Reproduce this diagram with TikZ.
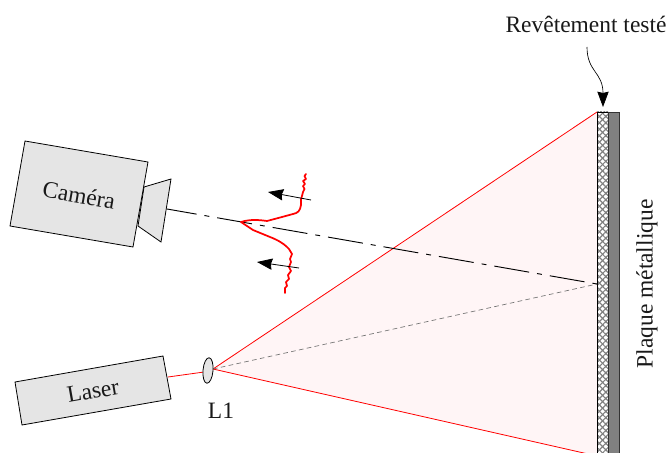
\documentclass[tikz,border=0pt]{standalone}
\usepackage{fontspec}
\setmainfont{Liberation Serif}
\usetikzlibrary{arrows.meta,patterns.meta}
\definecolor{boxgray}{HTML}{E5E5E5}
\definecolor{conepink}{HTML}{FFF5F6}
\definecolor{plategray}{HTML}{808080}
\tikzset{
  px/.style={x=0.75pt,y=-0.75pt},
  boxshape/.style={draw=black,fill=boxgray,line width=0.6pt,line join=miter},
  beam/.style={draw=red,line width=0.6pt},
  label/.style={font=\fontsize{17.6pt}{20pt}\selectfont,inner sep=0pt,text=black!90},
  bigtip/.style={-{Stealth[length=11.5pt,width=8.5pt,inset=1pt]}},
  signal/.style={draw=red,line width=1.3pt,line join=round,line cap=round},
}
\begin{document}
\begin{tikzpicture}[px]
\useasboundingbox (0,0) rectangle (672,453);
\begin{scope}
\clip (0,0) rectangle (672,453);
% named points
\coordinate (src) at (213,369);
\coordinate (top) at (597,112);
\coordinate (bot) at (597,456);
\coordinate (mid) at (597,284);
\coordinate (camaxis) at (167,209);
\coordinate (axisend) at (597,284);
\coordinate (laserout) at (168,377);
% cone
\fill[conepink] (src) -- (top) -- (bot) -- cycle;
\draw[beam] (top) -- (src) -- (bot);
\draw[black!55,line width=0.5pt,dash pattern=on 3.5pt off 2.5pt] (src) -- (mid);
% coating and plate
\fill[white] (597,112) rectangle (608,460);
\fill[pattern={Lines[angle=45,distance=3.4pt,line width=0.9pt]},pattern color=black!50] (597,112) rectangle (608,460);
\fill[pattern={Lines[angle=-45,distance=3.4pt,line width=0.9pt]},pattern color=black!50] (597,112) rectangle (608,460);
\draw[black,line width=0.7pt] (597,460) -- (597,112) -- (608,112) -- (608,460);
\draw[black!80,line width=0.7pt,fill=plategray] (608,460) -- (608,112) -- (619,112) -- (619,460);
\end{scope}
% camera axis
\draw[black,line width=0.7pt,dash pattern=on 26.5pt off 6pt on 3.7pt off 6pt,dash phase=4pt] (camaxis) -- (axisend);
% camera
\draw[boxshape] (144,187) -- (171,179) -- (161,242) -- (138,226) -- cycle;
\draw[boxshape] (25,141) -- (148,162) -- (133,247) -- (10,226) -- cycle;
\node[label,rotate=-10] (cam) at (79,195) {Caméra};
% laser
\draw[beam] (laserout) -- (204,372);
\draw[boxshape] (15,382) -- (163,356) -- (171,399) -- (22,425) -- cycle;
\node[label,rotate=10] (las) at (93,391) {Laser};
% lens
\draw[boxshape] (208,370.5) ellipse[x radius=5,y radius=12.8,rotate=-5];
\coordinate (lensc) at (208,370);
\node[label] (l1) at (221,411) {L1};
% signal
\draw[signal] (306,174) -- (304.5,176) -- (306,179) -- (303,181) -- (305,184) -- (303,186) -- (304.5,189) -- (303,192) -- (302,196) -- (301,199) -- (301,205) .. controls (300,211) and (298,213) .. (293,214) -- (282,217) -- (267,221) .. controls (260,220) and (250,219) .. (241,222) -- (253,230) -- (270,237) .. controls (278,240) and (284,244) .. (287,247) -- (289,249) -- (292,254) -- (290,259) -- (291,262) -- (289,267) -- (291,271) -- (288,275) -- (289,279) -- (286,282) -- (287,286) -- (285,288) -- (285,293);
\coordinate (ua) at (311,200);
\coordinate (ub) at (268,192);
\coordinate (la) at (299,268);
\coordinate (lb) at (257,262);
\draw[black,line width=0.6pt,bigtip] (ua) -- (ub);
\draw[black,line width=0.6pt,bigtip] (la) -- (lb);
% labels
\node[label] (rev) at (586,24) {Revêtement testé};
\node[label,rotate=90] (plaque) at (647,284) {Plaque métallique};
\coordinate (leader) at (587,47);
\coordinate (leadend) at (603,107);
\draw[black,line width=0.5pt,bigtip] (leader) .. controls (587,72) and (603,72) .. (leadend);
\end{tikzpicture}
\end{document}
